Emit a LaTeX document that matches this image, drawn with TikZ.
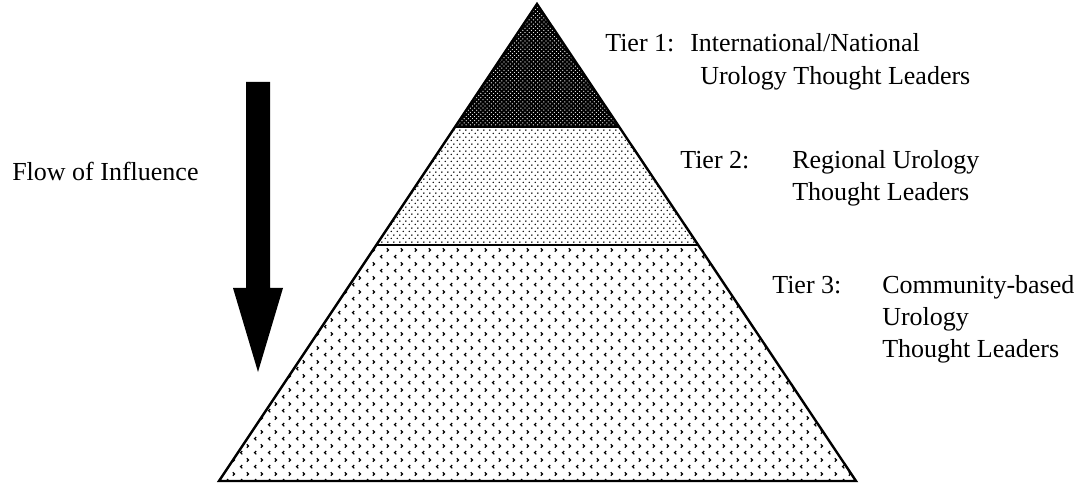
\documentclass[tikz,border=0pt]{standalone}
\usepackage{fontspec}
\setmainfont{Liberation Serif}
\usetikzlibrary{calc,patterns}

% fill patterns of the three tiers
\pgfdeclarepatternformonly{tierone}{\pgfqpoint{-1pt}{-1pt}}{\pgfqpoint{4.15pt}{4.15pt}}{\pgfqpoint{3.15pt}{3.15pt}}{
  \pgfsetlinewidth{1.3pt}
  \pgfpathmoveto{\pgfqpoint{-0.5pt}{-0.5pt}}\pgfpathlineto{\pgfqpoint{3.65pt}{3.65pt}}
  \pgfpathmoveto{\pgfqpoint{-0.5pt}{3.65pt}}\pgfpathlineto{\pgfqpoint{3.65pt}{-0.5pt}}
  \pgfusepath{stroke}}
\pgfdeclarepatternformonly{tiertwo}{\pgfpointorigin}{\pgfqpoint{4.5pt}{5.4pt}}{\pgfqpoint{4.5pt}{5.4pt}}{
  \pgfpathcircle{\pgfqpoint{1.1pt}{1.35pt}}{0.68pt}
  \pgfpathcircle{\pgfqpoint{3.35pt}{4.05pt}}{0.68pt}
  \pgfusepath{fill}}
\pgfdeclarepatternformonly{tierthree}{\pgfpointorigin}{\pgfqpoint{10.5pt}{10.6pt}}{\pgfqpoint{10.5pt}{10.6pt}}{
  \pgfsetlinewidth{0.95pt}
  \pgfpathmoveto{\pgfqpoint{3.4pt}{1.35pt}}\pgfpathlineto{\pgfqpoint{2pt}{2.65pt}}\pgfpathlineto{\pgfqpoint{3.4pt}{3.95pt}}
  \pgfpathmoveto{\pgfqpoint{7.1pt}{6.65pt}}\pgfpathlineto{\pgfqpoint{8.5pt}{7.95pt}}\pgfpathlineto{\pgfqpoint{7.1pt}{9.25pt}}
  \pgfusepath{stroke}}

\begin{document}
\begin{tikzpicture}[x=0.75pt,y=-0.75pt,
    edge/.style={line width=1.8pt,line join=miter},
    lbl/.style={anchor=base west,inner sep=0pt,font=\fontsize{19.5}{24}\selectfont}]

  \useasboundingbox (0,0) rectangle (1088,484);

  \coordinate (apex) at (537,4);
  \coordinate (bl) at (219,481);
  \coordinate (br) at (856,481);
  \coordinate (l1) at ($(apex)!0.258!(bl)$);
  \coordinate (r1) at ($(apex)!0.258!(br)$);
  \coordinate (l2) at ($(apex)!0.505!(bl)$);
  \coordinate (r2) at ($(apex)!0.505!(br)$);

  \fill[pattern=tierthree] (l2) -- (r2) -- (br) -- (bl) -- cycle;
  \fill[pattern=tiertwo] (l1) -- (r1) -- (r2) -- (l2) -- cycle;
  \fill[pattern=tierone] (apex) -- (r1) -- (l1) -- cycle;

  \draw[edge] (apex) -- (br) -- (bl) -- cycle;
  \draw[edge] (l1) -- (r1);
  \draw[edge] (l2) -- (r2);

  % flow arrow
  \fill (246,82) -- (270,82) -- (270,288) -- (283,288) -- (258,372)
        -- (233,288) -- (246,288) -- cycle;
  \node[lbl] (flow) at (12,181) {Flow of Influence};

  \node[lbl] (t1) at (605,52) {Tier 1:};
  \node[lbl] (t1a) at (690,52) {International/National};
  \node[lbl] (t1b) at (700,85) {Urology Thought Leaders};

  \node[lbl] (t2) at (680,169) {Tier 2:};
  \node[lbl] (t2a) at (792,169) {Regional Urology};
  \node[lbl] (t2b) at (792,201) {Thought Leaders};

  \node[lbl] (t3) at (772,294) {Tier 3:};
  \node[lbl] (t3a) at (882,294) {Community-based};
  \node[lbl] (t3b) at (882,326) {Urology};
  \node[lbl] (t3c) at (882,358) {Thought Leaders};

\end{tikzpicture}
\end{document}
